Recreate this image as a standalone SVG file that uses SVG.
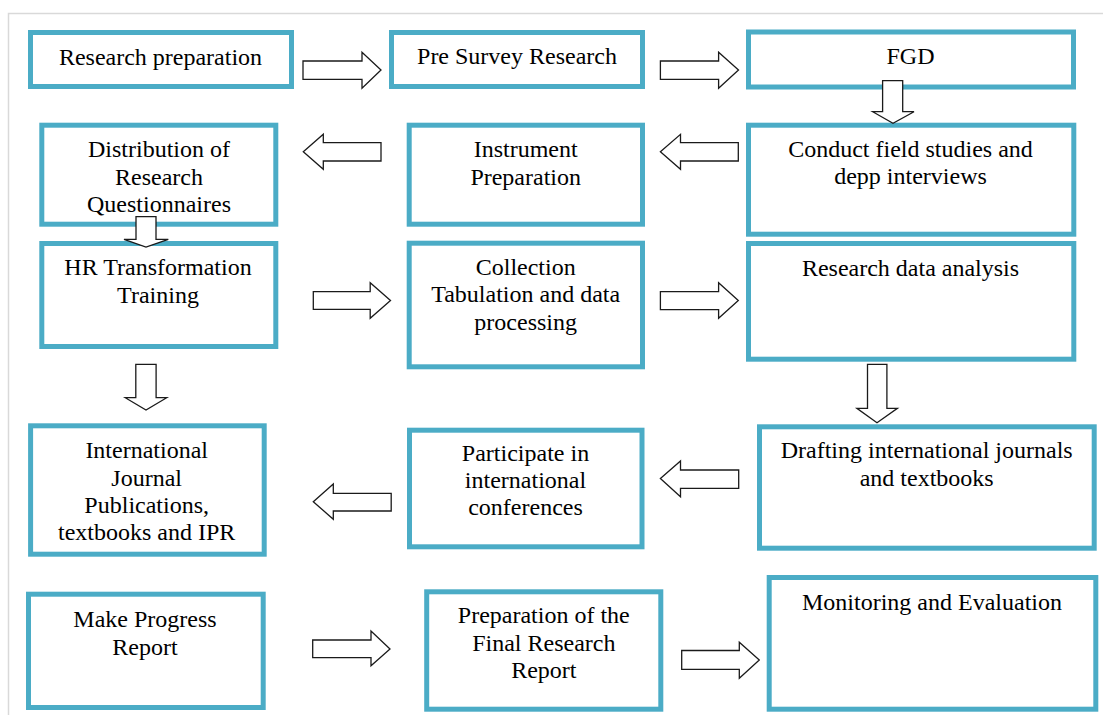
<svg xmlns="http://www.w3.org/2000/svg" width="1103" height="715" viewBox="0 0 1103 715">
<style>
.box{fill:#fff;stroke:#4BACC6;stroke-width:5}
.arr{fill:#fff;stroke:#1a1a1a;stroke-width:1.3;stroke-linejoin:miter}
text{font-family:"Liberation Serif","Times New Roman",serif;font-size:24px;fill:#000;text-anchor:middle}
.frame{stroke:#d9d9d9;stroke-width:1.5;fill:none}
</style>
<rect x="0" y="0" width="1103" height="715" fill="#fff"/>
<path class="frame" d="M8.5,715 V13.5 H1103"/>

<g id="n1"><rect class="box" x="30.5" y="32.5" width="261" height="54"/><text x="160.5" y="65">Research preparation</text></g>
<g id="n2"><rect class="box" x="391.5" y="32.5" width="251" height="54"/><text x="517" y="64">Pre Survey Research</text></g>
<g id="n3"><rect class="box" x="748.5" y="32" width="325" height="55"/><text x="910.5" y="63.5">FGD</text></g>
<g id="n4"><rect class="box" x="41.8" y="125.2" width="234" height="99"/><text x="159" y="156.7">Distribution of</text><text x="159" y="185">Research</text><text x="159" y="211.7">Questionnaires</text></g>
<g id="n5"><rect class="box" x="409.2" y="125.2" width="233.3" height="99"/><text x="525.7" y="156.7">Instrument</text><text x="525.7" y="185">Preparation</text></g>
<g id="n6"><rect class="box" x="748.5" y="125.2" width="325.3" height="109"/><text x="910.5" y="156.7">Conduct field studies and</text><text x="910.5" y="184.3">depp interviews</text></g>
<g id="n7"><rect class="box" x="41.8" y="243.5" width="234" height="103"/><text x="158" y="275">HR Transformation</text><text x="158" y="303.3">Training</text></g>
<g id="n8"><rect class="box" x="409.2" y="243.2" width="233.3" height="123.6"/><text x="525.7" y="275">Collection</text><text x="525.7" y="302">Tabulation and data</text><text x="525.7" y="329.5">processing</text></g>
<g id="n9"><rect class="box" x="748.5" y="243.5" width="325.3" height="115.7"/><text x="910.5" y="276">Research data analysis</text></g>
<g id="n10"><rect class="box" x="30.6" y="425.8" width="233.6" height="128.4"/><text x="146.7" y="458.3">International</text><text x="146.7" y="485.5">Journal</text><text x="146.7" y="513">Publications,</text><text x="146.7" y="540">textbooks and IPR</text></g>
<g id="n11"><rect class="box" x="409.5" y="430.2" width="232.5" height="116.6"/><text x="525.5" y="461">Participate in</text><text x="525.5" y="488.3">international</text><text x="525.5" y="515">conferences</text></g>
<g id="n12"><rect class="box" x="759.5" y="426.8" width="334.7" height="121.4"/><text x="926.7" y="458.3">Drafting international journals</text><text x="926.7" y="486">and textbooks</text></g>
<g id="n13"><rect class="box" x="28.5" y="594.2" width="234.7" height="113.3"/><text x="145" y="626.7">Make Progress</text><text x="145" y="655">Report</text></g>
<g id="n14"><rect class="box" x="426.7" y="591.8" width="234.1" height="117.4"/><text x="543.8" y="623.3">Preparation of the</text><text x="543.8" y="651">Final Research</text><text x="543.8" y="678.3">Report</text></g>
<g id="n15"><rect class="box" x="769.2" y="577.5" width="326.6" height="131.7"/><text x="932" y="610">Monitoring and Evaluation</text></g>

<g id="connectors">
<polygon class="arr" points="303,61 362,61 362,52.3 381,70 362,88.3 362,79.3 303,79.3"/>
<polygon class="arr" points="660.4,61 718.6,61 718.6,52.3 738.5,70 718.6,88.3 718.6,79.3 660.4,79.3"/>
<polygon class="arr" points="882.6,80.7 902.7,80.7 902.7,111.7 914,111.7 893,123.3 872.7,111.7 882.6,111.7"/>
<polygon class="arr" points="738.3,142.7 680.5,142.7 680.5,134.3 660.4,151.7 680.5,169.3 680.5,161 738.3,161"/>
<polygon class="arr" points="381,142.7 323.3,142.7 323.3,134.3 303.3,151.7 323.3,169.3 323.3,161 381,161"/>
<polygon class="arr" points="136,216.7 156,216.7 156,239.3 168.3,239.3 146,247 124,239.3 136,239.3"/>
<polygon class="arr" points="313.3,291.7 370.2,291.7 370.2,282.7 390.5,300.5 370.2,318.3 370.2,309.3 313.3,309.3"/>
<polygon class="arr" points="660.4,291.7 718.6,291.7 718.6,282.7 738.3,300.5 718.6,318.3 718.6,309.7 660.4,309.7"/>
<polygon class="arr" points="135.8,364.3 156.1,364.3 156.1,397.7 166.7,397.7 146,410 125.3,397.7 135.8,397.7"/>
<polygon class="arr" points="867.5,364.3 886.9,364.3 886.9,408.3 897.4,408.3 877,422.7 856.9,408.3 867.5,408.3"/>
<polygon class="arr" points="738.7,470 680.5,470 680.5,461 660.4,478.5 680.5,496.7 680.5,488.3 738.7,488.3"/>
<polygon class="arr" points="391.2,493.3 333.3,493.3 333.3,484 313.3,501.7 333.3,519.3 333.3,511 391.2,511"/>
<polygon class="arr" points="312.7,640 371,640 371,631 390,649 371,665.7 371,657.7 312.7,657.7"/>
<polygon class="arr" points="681.7,650.5 739.3,650.5 739.3,642.3 759.3,660 739.3,678.3 739.3,669.3 681.7,669.3"/>
</g>
</svg>
